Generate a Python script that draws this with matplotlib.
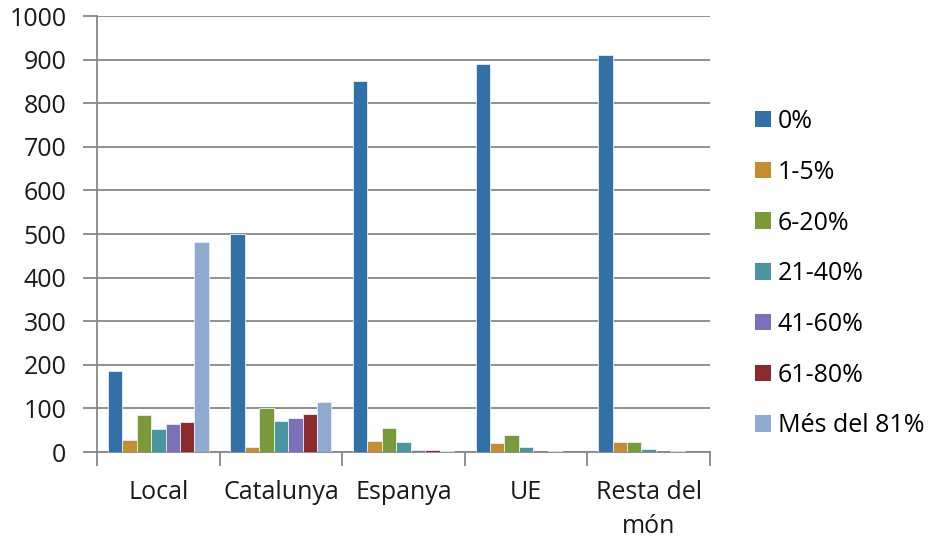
import matplotlib
matplotlib.use("Agg")
import matplotlib.pyplot as plt
import numpy as np
from matplotlib.patches import Patch

categories = ["Local", "Catalunya", "Espanya", "UE", "Resta del\nmón"]
series_names = ["0%", "1-5%", "6-20%", "21-40%", "41-60%", "61-80%", "Més del 81%"]
values = {
    "0%":          [186, 500, 852, 891, 910],
    "1-5%":        [28, 12, 25, 20, 23],
    "6-20%":       [85, 101, 56, 40, 23],
    "21-40%":      [53, 70, 22, 11, 7],
    "41-60%":      [65, 78, 5, 1, 0],
    "61-80%":      [68, 87, 4, 3, 2],
    "Més del 81%": [482, 115, 2, 1, 1],
}
colors = ["#3171A8", "#C68C30", "#7A9A39", "#4A959F", "#7B71B9", "#8B2A2F", "#8FAAD0"]
yticks = list(range(0, 1001, 100))

FS = 18
plt.rcParams['font.family'] = ['Open Sans', 'DejaVu Sans']
fig = plt.figure(figsize=(9.32, 5.41), dpi=100)
ax = fig.add_axes([97/932, 1-452/541, (710-97)/932, (452-16)/541])

n = len(series_names)
bw = 0.1177
x = np.arange(len(categories))
for i, name in enumerate(series_names):
    offs = (i - (n-1)/2) * bw
    ax.bar(x + offs, values[name], width=bw, color=colors[i], edgecolor="#E8EEF5",
           linewidth=0.6, zorder=3, label=name)

gray = "#878787"
ax.set_xlim(-0.5, len(categories)-0.5)
ax.set_ylim(0, 1000)
ax.set_yticks(yticks)
ax.set_yticklabels([str(v) for v in yticks], fontsize=FS, color="#1a1a1a")
ax.yaxis.grid(True, color=gray, linewidth=1.3, zorder=0)
ax.set_xticks(x)
ax.set_xticklabels(categories, fontsize=FS, color="#1a1a1a", linespacing=1.45)
ax.set_xticks(np.arange(-0.5, len(categories), 1), minor=True)
ax.tick_params(axis='x', which='major', length=0, pad=20.5)
ax.tick_params(axis='x', which='minor', length=10, width=1.3, color=gray)
ax.tick_params(axis='y', which='major', length=10, width=1.3, color=gray, pad=12)
for lbl in ax.get_xticklabels():
    lbl.set_verticalalignment('top')
for s in ['top', 'right']:
    ax.spines[s].set_visible(False)
for s in ['left', 'bottom']:
    ax.spines[s].set_color(gray)
    ax.spines[s].set_linewidth(1.3)

handles = [Patch(facecolor=c, edgecolor='none') for c in colors]
fig.legend(handles, series_names, loc='upper left', bbox_to_anchor=(755/932, 1-109/541),
           frameon=False, fontsize=FS, handlelength=0.64, handleheight=0.64,
           handletextpad=0.28, labelspacing=1.03, borderpad=0, borderaxespad=0)

fig.savefig("out.png", dpi=100)
